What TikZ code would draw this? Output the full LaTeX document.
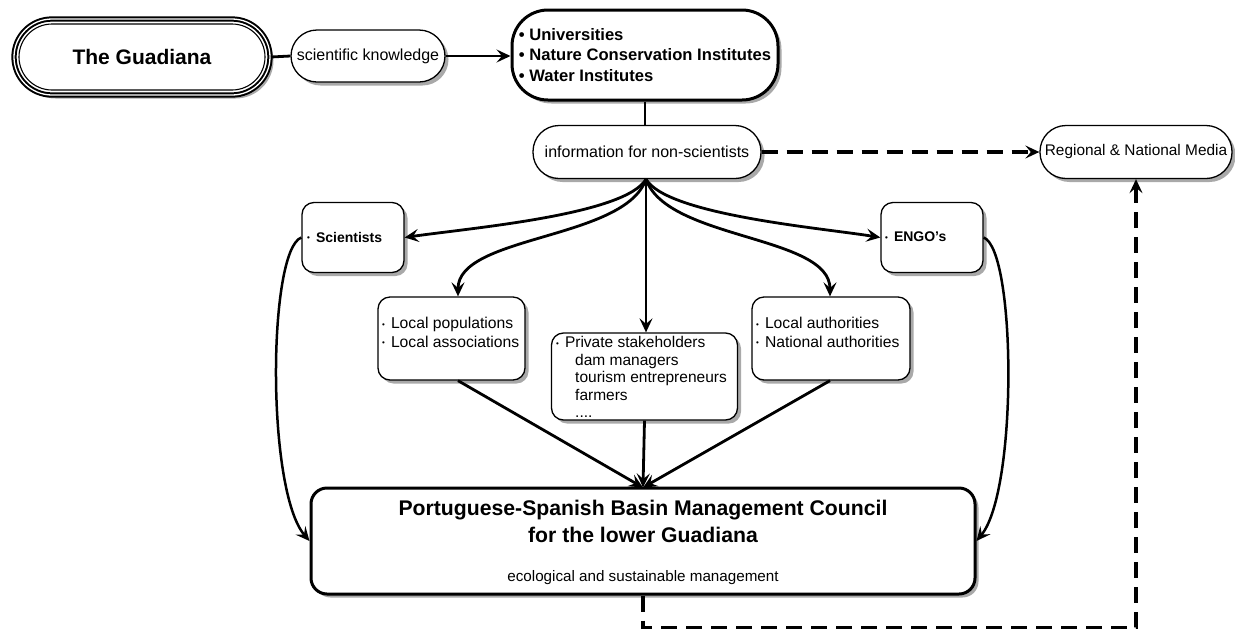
\documentclass[tikz,border=0pt]{standalone}
\usepackage{fontspec}
\setmainfont{Liberation Sans}
\usetikzlibrary{arrows.meta,shadows}
\begin{document}
\begin{tikzpicture}[x=1pt,y=-1pt,
  shd/.style={drop shadow={shadow xshift=3.5pt,shadow yshift=-3.5pt,fill=black!45,opacity=0.75}},
  box/.style={draw,line width=1.3pt,fill=white,shd,inner sep=0pt,rounded corners=12pt},
  pill/.style={box,font=\fontsize{16}{18}\selectfont},
  txt/.style={font=\fontsize{15.7}{18.5}\selectfont,align=left,inner sep=0pt},
  conn/.style={line width=2.8pt,-{Stealth[length=14pt,width=13pt,inset=5.5pt]}},
  plain/.style={line width=2.8pt},
  dsh/.style={line width=3.5pt,dash pattern=on 16pt off 9pt,-{Stealth[length=14pt,width=13pt,inset=5.5pt]}}
]
\useasboundingbox (0,0) rectangle (1235,630);
\def\bul{{\fontsize{8}{8}\selectfont\raisebox{1.5pt}{•}}\hspace{6pt}}

% The Guadiana
\node[draw,line width=2pt,double=white,double distance=1.3pt,fill=white,shd,
  rounded corners=38pt,minimum width=256pt,minimum height=76pt,inner sep=0pt] (gua) at (142,57) {};
\node[draw,line width=1.1pt,rounded corners=33pt,minimum width=246pt,minimum height=66pt,
  inner sep=0pt,font=\fontsize{21}{24}\selectfont\bfseries] (guat) at (142,57) {The Guadiana};

\node[pill,rounded corners=26pt,minimum width=154pt,minimum height=52pt] (sk) at (368,56) {scientific knowledge};

\node[box,line width=3pt,rounded corners=36pt,minimum width=266pt,minimum height=90pt,
  align=left,font=\fontsize{16.6}{20.5}\selectfont\bfseries] (uni) at (645,55)
  {• Universities\\• Nature Conservation Institutes\\• Water Institutes};

\node[pill,rounded corners=26pt,minimum width=228pt,minimum height=53pt] (info) at (647,152) {information for non-scientists};
\node[pill,rounded corners=26pt,minimum width=192pt,minimum height=53pt,font=\fontsize{15.4}{18}\selectfont] (media) at (1136,152) {Regional \& National Media};

\node[box,minimum width=102pt,minimum height=70pt] (sci) at (353,237.5) {};
\node[txt,font=\fontsize{14}{19}\selectfont\bfseries,anchor=west] (scit) at (307,237) {\bul Scientists};

\node[box,minimum width=102pt,minimum height=70pt] (engo) at (932,237.5) {};
\node[txt,font=\fontsize{14}{19}\selectfont\bfseries,anchor=west] (engot) at (885,237) {\bul ENGO's};

\node[box,minimum width=147pt,minimum height=83pt] (lp) at (451.5,338.5) {};
\node[txt,anchor=north west] (lpt) at (382,317) {\bul Local populations\\\bul Local associations};

\node[box,minimum width=186pt,minimum height=87pt] (priv) at (644.5,376.5) {};
\node[txt,anchor=north west,font=\fontsize{15.5}{17.5}\selectfont] (privt) at (556,336.5)
  {\bul Private stakeholders\\\hspace{19pt}dam managers\\\hspace{19pt}tourism entrepreneurs\\\hspace{19pt}farmers\\\hspace{19pt}....};

\node[box,minimum width=158pt,minimum height=83pt] (la) at (831,338.5) {};
\node[txt,anchor=north west] (lat) at (756,317) {\bul Local authorities\\\bul National authorities};

\node[box,line width=3pt,rounded corners=16pt,minimum width=664pt,minimum height=106pt] (coun) at (643,541) {};
\node[inner sep=0pt,align=center,font=\fontsize{21.2}{27}\selectfont\bfseries] (count) at (643,521)
  {Portuguese-Spanish Basin Management Council\\for the lower Guadiana};
\node[inner sep=0pt,font=\fontsize{15.2}{17}\selectfont] (cous) at (643,578) {ecological and sustainable management};

% connectors
\draw[plain] (gua.east) -- (sk.west);
\draw[conn] (sk.east) -- (uni.west |- sk.east);
\draw[plain] (uni.south) -- (uni.south |- info.north);
\draw[dsh] (info.east) -- (media.west);

\coordinate (fan) at ([xshift=-1pt]info.south);
\draw[conn] (fan) .. controls (625,215) and (470,228) .. (sci.east);
\draw[conn] (fan) .. controls (625,240) and (458,235) .. ([xshift=6.5pt]lp.north);
\draw[conn] (fan) -- (fan |- priv.north);
\draw[conn] (fan) .. controls (667,240) and (830,235) .. ([xshift=-1pt]la.north);
\draw[conn] (fan) .. controls (667,215) and (822,228) .. (engo.west);

\coordinate (tgt) at ([yshift=-1pt]coun.north);
\draw[conn] ([xshift=6.5pt]lp.south) -- (tgt);
\draw[conn] (priv.south) -- (tgt);
\draw[conn] ([xshift=-1pt]la.south) -- (tgt);

\draw[conn,line width=2.5pt] (sci.west) .. controls (268,250) and (266,490) .. (coun.west);
\draw[conn,line width=2.5pt] (engo.east) .. controls (1016,250) and (1018,490) .. (coun.east);

\draw[dsh] (coun.south) -- ++(0,32) -| (media.south);
\end{tikzpicture}
\end{document}
